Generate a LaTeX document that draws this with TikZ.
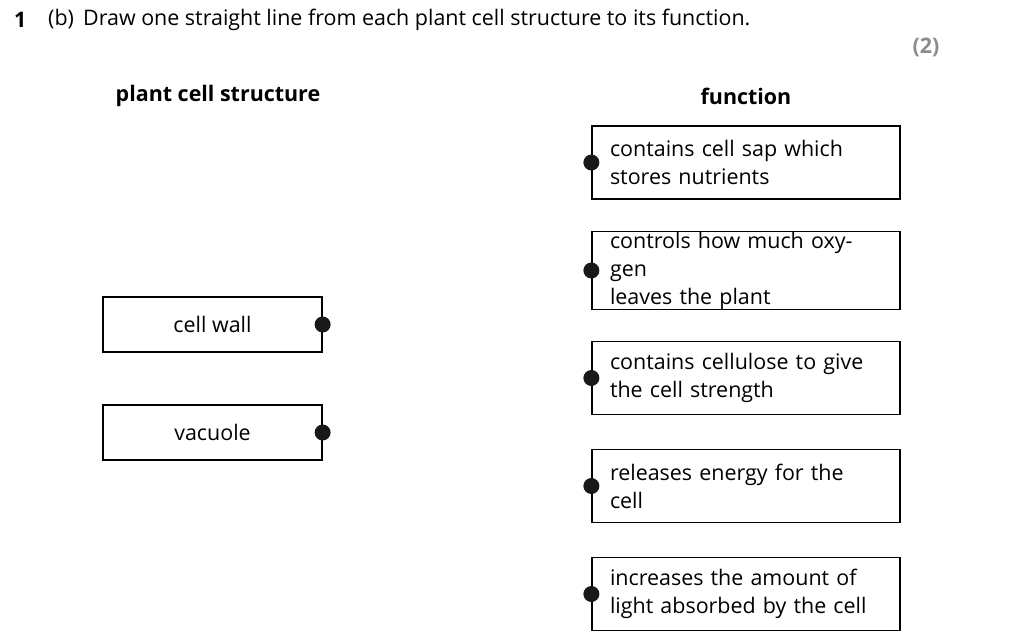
\documentclass[tikz,border=0pt]{standalone}
\usepackage{fontspec}
\setmainfont{Open Sans}
\usetikzlibrary{positioning}
\begin{document}
\begin{tikzpicture}[x=0.02cm,y=-0.02cm]
		\tikzstyle{every node}=[font=\fontsize{12.2}{15.9}\selectfont]
		\tikzstyle{structbox}=[draw, line width=0.7pt, minimum width=219*0.02cm, minimum height=55*0.02cm]
		\tikzstyle{funcbox}=[draw, line width=0.7pt, minimum width=308*0.02cm, minimum height=73*0.02cm, inner xsep=18*0.02cm, inner ysep=0pt, text width=272*0.02cm, align=left]
		\tikzstyle{dot}=[circle, fill=black!90, inner sep=0pt, minimum size=16*0.02cm]
		\useasboundingbox (0,0) rectangle (1030,641);
		\node [anchor=west, font=\fontsize{12.2}{15.9}\selectfont\bfseries] at (8,20) {1};
		\node [anchor=west] at (42,20) {(b)\, Draw one straight line from each plant cell structure to its function.};
		\node [font=\fontsize{12.2}{15.9}\selectfont\bfseries, text=black!45] at (926,47) {(2)};
		\node [font=\fontsize{12.2}{15.9}\selectfont\bfseries] at (218,96) {plant cell structure};
		\node [font=\fontsize{12.2}{15.9}\selectfont\bfseries] at (746,96) {function};
		% structures
		\node [structbox] (wall) at (212.5,324.5) {cell wall};
		\node [structbox] (vac) at (212.5,432.5) {vacuole};
		\node [dot] at (wall.east) {};
		\node [dot] at (vac.east) {};
		% functions
		\node [funcbox] (sap) at (746,162.5) {contains cell sap which\\stores nutrients};
		\node [funcbox] (oxy) at (746,270.5) {controls how much oxygen\\leaves the plant};
		\node [funcbox] (cellu) at (746,378) {contains cellulose to give\\the cell strength};
		\node [funcbox] (energy) at (746,486) {releases energy for the cell};
		\node [funcbox] (light) at (746,594) {increases the amount of\\light absorbed by the cell};
		\foreach \f in {sap,oxy,cellu,energy,light}
			\node [dot] at (\f.west) {};
	\end{tikzpicture}
\end{document}
